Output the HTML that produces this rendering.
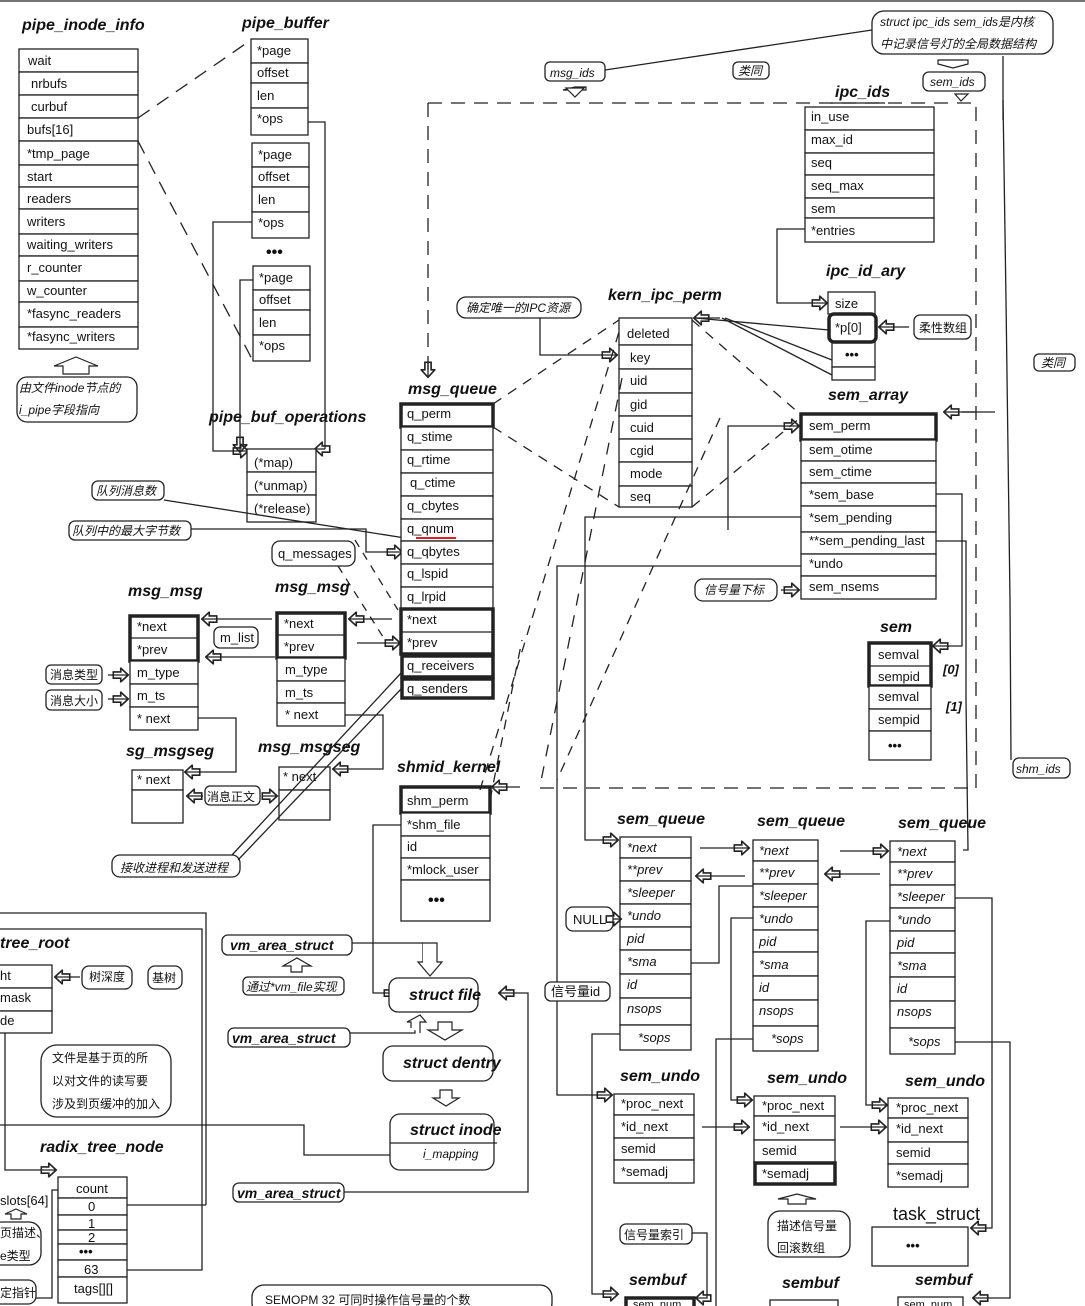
<!DOCTYPE html>
<html><head><meta charset="utf-8"><style>
html,body{margin:0;padding:0;background:#fff}
svg{display:block}
text{font-family:"Liberation Sans","Noto Sans CJK SC",sans-serif;font-size:13px;fill:#111}
.t{font-weight:bold;font-style:italic;font-size:16px}
.i{font-style:italic}
.c{font-family:"Liberation Sans","Noto Sans CJK SC",sans-serif;font-style:italic;font-size:12px}
rect{fill:#fff;stroke:#222;stroke-width:1.3}
.k{stroke-width:3.5}
.n{fill:#fff;stroke:#222;stroke-width:1.2}
line,polyline,path{stroke:#222;stroke-width:1.3;fill:none}
.d{stroke-dasharray:14 9}
</style></head><body>
<svg width="1085" height="1306" viewBox="0 0 1085 1306" xmlns="http://www.w3.org/2000/svg">
<defs>
<marker id="a" viewBox="0 0 12 12" refX="11" refY="6" markerWidth="17" markerHeight="15" markerUnits="userSpaceOnUse" orient="auto"><path d="M0,3.5 L6,3.5 L6,0.5 L12,6 L6,11.5 L6,8.5 L0,8.5 Z" fill="#fff" stroke="#222" stroke-width="0.9"/></marker>
</defs>
<line x1="0" y1="1" x2="1085" y2="1" stroke-width="2"/>

<!-- pipe_inode_info -->
<text class="t" x="22" y="30">pipe_inode_info</text>
<g>
<rect x="19" y="49" width="119" height="23"/><text x="28" y="65">wait</text>
<rect x="19" y="72" width="119" height="23"/><text x="31" y="88">nrbufs</text>
<rect x="19" y="95" width="119" height="23"/><text x="31" y="111">curbuf</text>
<rect x="19" y="118" width="119" height="23"/><text x="27" y="134">bufs[16]</text>
<rect x="19" y="141" width="119" height="24"/><text x="27" y="158">*tmp_page</text>
<rect x="19" y="165" width="119" height="22"/><text x="27" y="181">start</text>
<rect x="19" y="187" width="119" height="22"/><text x="27" y="203">readers</text>
<rect x="19" y="209" width="119" height="25"/><text x="27" y="226">writers</text>
<rect x="19" y="234" width="119" height="22"/><text x="27" y="249">waiting_writers</text>
<rect x="19" y="256" width="119" height="25"/><text x="27" y="272">r_counter</text>
<rect x="19" y="281" width="119" height="21"/><text x="27" y="295">w_counter</text>
<rect x="19" y="302" width="119" height="25"/><text x="27" y="318">*fasync_readers</text>
<rect x="19" y="327" width="119" height="22"/><text x="27" y="341">*fasync_writers</text>
</g>
<path d="M54,366 L76,357 L98,366 L89,366 L89,374 L63,374 L63,366 Z" class="n"/>
<rect x="17" y="377" width="120" height="45" rx="10"/>
<text class="c" x="19" y="392">由文件inode节点的</text>
<text class="c" x="19" y="414">i_pipe字段指向</text>

<!-- pipe_buffer -->
<text class="t" x="242" y="28">pipe_buffer</text>
<rect x="251" y="39" width="57" height="24"/><text x="257" y="55">*page</text>
<rect x="251" y="63" width="57" height="20"/><text x="257" y="77">offset</text>
<rect x="251" y="83" width="57" height="25"/><text x="257" y="100">len</text>
<rect x="251" y="108" width="57" height="27"/><text x="257" y="123">*ops</text>
<rect x="252" y="143" width="57" height="24"/><text x="258" y="159">*page</text>
<rect x="252" y="167" width="57" height="20"/><text x="258" y="181">offset</text>
<rect x="252" y="187" width="57" height="25"/><text x="258" y="204">len</text>
<rect x="252" y="212" width="57" height="26"/><text x="258" y="227">*ops</text>
<text x="266" y="257" style="font-weight:bold;font-size:16px">•••</text>
<rect x="253" y="266" width="57" height="24"/><text x="259" y="282">*page</text>
<rect x="253" y="290" width="57" height="20"/><text x="259" y="304">offset</text>
<rect x="253" y="310" width="57" height="25"/><text x="259" y="327">len</text>
<rect x="253" y="335" width="57" height="26"/><text x="259" y="350">*ops</text>
<line x1="138" y1="118" x2="251" y2="40" class="d"/>
<line x1="138" y1="141" x2="253" y2="361" class="d"/>
<polyline points="308,122 325,122 325,449"/>
<polyline points="252,222 213,222 213,451 247,451" marker-end="url(#a)"/>
<polyline points="253,280 240,280 240,440"/>
<line x1="240" y1="440" x2="240" y2="451" marker-end="url(#a)"/>
<line x1="325" y1="449" x2="316" y2="449" marker-end="url(#a)"/>

<!-- pipe_buf_operations -->
<text class="t" x="209" y="422">pipe_buf_operations</text>
<rect x="247" y="449" width="69" height="23"/><text x="254" y="467">(*map)</text>
<rect x="247" y="472" width="69" height="23"/><text x="254" y="490">(*unmap)</text>
<rect x="247" y="495" width="69" height="27"/><text x="254" y="513">(*release)</text>

<!-- notes left middle -->
<rect x="92" y="481" width="72" height="19" rx="6"/><text class="c" x="96" y="495">队列消息数</text>
<rect x="69" y="521" width="122" height="19" rx="6"/><text class="c" x="72" y="535">队列中的最大字节数</text>
<line x1="164" y1="500" x2="405" y2="538"/>
<polyline points="191,529 366,529 366,552 401,552" marker-end="url(#a)"/>
<rect x="272" y="541" width="83" height="25" rx="8"/><text x="278" y="558">q_messages</text>
<line x1="338" y1="566" x2="385" y2="640" class="d" style="stroke-dasharray:8 7"/>
<line x1="355" y1="540" x2="398" y2="610" class="d" style="stroke-dasharray:8 7"/>

<!-- msg_queue -->
<line x1="428" y1="103" x2="428" y2="372" class="d"/>
<line x1="428" y1="362" x2="428" y2="376" marker-end="url(#a)"/>
<text class="t" x="408" y="394">msg_queue</text>
<rect x="401" y="404" width="92" height="23" class="k"/><text x="407" y="418">q_perm</text>
<rect x="401" y="427" width="92" height="23"/><text x="407" y="441">q_stime</text>
<rect x="401" y="450" width="92" height="23"/><text x="407" y="464">q_rtime</text>
<rect x="401" y="473" width="92" height="23"/><text x="410" y="487">q_ctime</text>
<rect x="401" y="496" width="92" height="23"/><text x="407" y="510">q_cbytes</text>
<rect x="401" y="519" width="92" height="22"/><text x="407" y="533">q_qnum</text>
<line x1="416" y1="538" x2="456" y2="538" style="stroke:#e02020;stroke-width:2"/>
<rect x="401" y="541" width="92" height="23"/><text x="407" y="556">q_qbytes</text>
<rect x="401" y="564" width="92" height="23"/><text x="407" y="578">q_lspid</text>
<rect x="401" y="587" width="92" height="22"/><text x="407" y="601">q_lrpid</text>
<rect x="401" y="609" width="92" height="45" class="k"/><line x1="401" y1="632" x2="493" y2="632"/>
<text x="407" y="624">*next</text><text x="407" y="647">*prev</text>
<rect x="402" y="656" width="91" height="21" class="k"/><text x="407" y="670">q_receivers</text>
<rect x="402" y="679" width="91" height="19" class="k"/><text x="407" y="693">q_senders</text>

<!-- msg_msg -->
<text class="t" x="128" y="596">msg_msg</text>
<rect x="130" y="616" width="68" height="45" class="k"/><line x1="130" y1="638" x2="198" y2="638"/>
<text x="137" y="631">*next</text><text x="137" y="654">*prev</text>
<rect x="130" y="661" width="68" height="23"/><text x="137" y="677">m_type</text>
<rect x="130" y="684" width="68" height="23"/><text x="137" y="700">m_ts</text>
<rect x="130" y="707" width="68" height="23"/><text x="137" y="723">* next</text>
<text class="t" x="275" y="592">msg_msg</text>
<rect x="277" y="613" width="68" height="45" class="k"/><line x1="277" y1="635" x2="345" y2="635"/>
<text x="284" y="628">*next</text><text x="284" y="651">*prev</text>
<rect x="277" y="658" width="68" height="23"/><text x="285" y="674">m_type</text>
<rect x="277" y="681" width="68" height="22"/><text x="285" y="697">m_ts</text>
<rect x="277" y="703" width="68" height="23"/><text x="285" y="719">* next</text>
<line x1="272" y1="619" x2="203" y2="619" marker-end="url(#a)"/>
<line x1="275" y1="657" x2="207" y2="657" marker-end="url(#a)"/>
<rect x="214" y="627" width="44" height="21" rx="6"/><text x="220" y="642">m_list</text>
<line x1="392" y1="619" x2="350" y2="619" marker-end="url(#a)"/>
<line x1="357" y1="643" x2="399" y2="643" marker-end="url(#a)"/>
<rect x="46" y="665" width="56" height="19" rx="5"/><text x="50" y="679" style="font-size:12px">消息类型</text>
<rect x="46" y="690" width="56" height="20" rx="5"/><text x="50" y="705" style="font-size:12px">消息大小</text>
<line x1="108" y1="675" x2="127" y2="675" marker-end="url(#a)"/>
<line x1="108" y1="699" x2="127" y2="699" marker-end="url(#a)"/>
<polyline points="198,718 236,718 236,772 186,772" marker-end="url(#a)"/>
<polyline points="345,715 383,715 383,769 334,769" marker-end="url(#a)"/>
<text class="t" x="126" y="756">sg_msgseg</text>
<rect x="132" y="770" width="51" height="20"/><text x="137" y="784">* next</text>
<rect x="132" y="790" width="51" height="33"/>
<text class="t" x="258" y="752">msg_msgseg</text>
<rect x="279" y="767" width="51" height="23"/><text x="283" y="781">* next</text>
<rect x="279" y="790" width="51" height="30"/>
<rect x="205" y="786" width="55" height="19" rx="5"/><text x="207" y="801" style="font-size:12px">消息正文</text>
<line x1="203" y1="796" x2="188" y2="796" marker-end="url(#a)"/>
<line x1="262" y1="796" x2="276" y2="796" marker-end="url(#a)"/>
<rect x="112" y="855" width="128" height="22" rx="8"/><text class="c" x="120" y="872">接收进程和发送进程</text>
<line x1="232" y1="855" x2="402" y2="672"/>
<line x1="238" y1="860" x2="402" y2="688"/>

<!-- shmid_kernel -->
<text class="t" x="397" y="772">shmid_kernel</text>
<rect x="401" y="787" width="89" height="26" class="k"/><text x="407" y="805">shm_perm</text>
<rect x="401" y="813" width="89" height="23"/><text x="407" y="829">*shm_file</text>
<rect x="401" y="836" width="89" height="22"/><text x="407" y="851">id</text>
<rect x="401" y="858" width="89" height="22"/><text x="407" y="874">*mlock_user</text>
<rect x="401" y="880" width="89" height="41"/><text x="428" y="905" style="font-weight:bold;font-size:16px">•••</text>
<line x1="520" y1="787" x2="493" y2="787" marker-end="url(#a)"/>
<polyline points="401,825 373,825 373,993 398,993" marker-end="url(#a)"/>
<line x1="490" y1="800" x2="522" y2="640" class="d" style="stroke-dasharray:10 8"/>
<line x1="480" y1="790" x2="622" y2="322" class="d" style="stroke-dasharray:10 8"/>

<!-- kern_ipc_perm -->
<text class="t" x="608" y="300">kern_ipc_perm</text>
<rect x="619" y="318" width="73" height="27"/><text x="627" y="338">deleted</text>
<rect x="619" y="345" width="73" height="24"/><text x="630" y="362">key</text>
<rect x="619" y="369" width="73" height="24"/><text x="630" y="385">uid</text>
<rect x="619" y="393" width="73" height="23"/><text x="630" y="409">gid</text>
<rect x="619" y="416" width="73" height="23"/><text x="630" y="432">cuid</text>
<rect x="619" y="439" width="73" height="23"/><text x="630" y="455">cgid</text>
<rect x="619" y="462" width="73" height="24"/><text x="630" y="478">mode</text>
<rect x="619" y="486" width="73" height="21"/><text x="630" y="501">seq</text>
<rect x="457" y="297" width="124" height="21" rx="9"/><text class="c" x="466" y="312">确定唯一的IPC资源</text>
<polyline points="540,318 540,355 616,355" marker-end="url(#a)"/>
<line x1="493" y1="404" x2="619" y2="320" class="d" style="stroke-dasharray:10 8"/>
<line x1="493" y1="427" x2="619" y2="507" class="d" style="stroke-dasharray:10 8"/>
<line x1="692" y1="320" x2="800" y2="414" class="d" style="stroke-dasharray:10 8"/>
<line x1="692" y1="507" x2="800" y2="418" class="d" style="stroke-dasharray:10 8"/>

<!-- ipc_ids area -->
<rect x="545" y="62" width="60" height="19" rx="5"/><text class="c" x="550" y="77">msg_ids</text>
<line x1="605" y1="70" x2="872" y2="30"/>
<path d="M563,90 L586,90 L586,87 L575,87 Z" class="n"/>
<path d="M566,88 L584,88 L575,97 Z" class="n"/>
<rect x="733" y="62" width="36" height="17" rx="5"/><text class="c" x="738" y="75">类同</text>
<rect x="872" y="11" width="181" height="43" rx="12"/>
<text class="c" x="880" y="26">struct ipc_ids sem_ids是内核</text>
<text class="c" x="880" y="48">中记录信号灯的全局数据结构</text>
<path d="M938,60 L968,60 L968,64 L953,68 L938,64 Z" class="n"/>
<rect x="923" y="72" width="62" height="19" rx="6"/><text class="c" x="930" y="86">sem_ids</text>
<path d="M955,94 L968,94 L961,101 Z" class="n"/>
<rect x="1034" y="354" width="41" height="17" rx="5"/><text class="c" x="1041" y="367">类同</text>
<line x1="1003" y1="56" x2="1003" y2="120"/>
<polyline points="1003,100 1006,300 1010,600 1011,760"/>
<rect x="1013" y="758" width="57" height="20" rx="6"/><text class="c" x="1016" y="773">shm_ids</text>
<!-- big dashed frame -->
<polyline points="428,103 976,103 976,788" class="d"/>
<line x1="540" y1="788" x2="976" y2="788" class="d"/>
<line x1="830" y1="103" x2="885" y2="103" stroke-width="3"/>
<text class="t" x="835" y="97">ipc_ids</text>
<rect x="805" y="107" width="129" height="23"/><text x="811" y="121">in_use</text>
<rect x="805" y="130" width="129" height="23"/><text x="811" y="144">max_id</text>
<rect x="805" y="153" width="129" height="22"/><text x="811" y="167">seq</text>
<rect x="805" y="175" width="129" height="23"/><text x="811" y="190">seq_max</text>
<rect x="805" y="198" width="129" height="20"/><text x="811" y="213">sem</text>
<rect x="805" y="218" width="129" height="24"/><text x="811" y="235">*entries</text>
<polyline points="805,229 777,229 777,303 826,303" marker-end="url(#a)"/>
<text class="t" x="826" y="276">ipc_id_ary</text>
<rect x="828" y="292" width="47" height="22"/><text x="835" y="308">size</text>
<rect x="832" y="342" width="43" height="25"/><text x="845" y="359" style="font-weight:bold">•••</text>
<rect x="832" y="367" width="43" height="13"/>
<rect x="829" y="314" width="47" height="28" rx="5" class="k"/><text x="835" y="332">*p[0]</text>
<line x1="829" y1="330" x2="695" y2="318"/>
<line x1="832" y1="360" x2="725" y2="318"/>
<line x1="832" y1="375" x2="722" y2="318"/>
<line x1="720" y1="318" x2="695" y2="318" marker-end="url(#a)"/>
<line x1="909" y1="327" x2="880" y2="327" marker-end="url(#a)"/>
<rect x="914" y="315" width="57" height="24" rx="6"/><text x="919" y="332" style="font-size:12px">柔性数组</text>

<!-- sem_array -->
<text class="t" x="828" y="400">sem_array</text>
<rect x="801" y="414" width="135" height="26" class="k"/><text x="809" y="430">sem_perm</text>
<rect x="801" y="440" width="135" height="21"/><text x="809" y="454">sem_otime</text>
<rect x="801" y="461" width="135" height="22"/><text x="809" y="476">sem_ctime</text>
<rect x="801" y="483" width="135" height="23"/><text x="809" y="499">*sem_base</text>
<rect x="801" y="506" width="135" height="26"/><text x="809" y="522">*sem_pending</text>
<rect x="801" y="532" width="135" height="22"/><text x="809" y="545">**sem_pending_last</text>
<rect x="801" y="554" width="135" height="22"/><text x="809" y="568">*undo</text>
<rect x="801" y="576" width="135" height="23"/><text x="809" y="591">sem_nsems</text>
<polyline points="976,412 962,412"/><line x1="995" y1="412" x2="945" y2="412" marker-end="url(#a)"/>
<polyline points="728,530 728,426 798,426" marker-end="url(#a)"/>
<rect x="695" y="579" width="82" height="22" rx="8"/><text class="c" x="704" y="594">信号量下标</text>
<line x1="781" y1="590" x2="798" y2="590" marker-end="url(#a)"/>
<polyline points="936,494 962,494 962,646 934,646" marker-end="url(#a)"/>
<polyline points="936,541 966,541 966,700 968,850 963,850"/>
<polyline points="801,517 585,517 585,840 617,840" marker-end="url(#a)"/>
<polyline points="801,566 557,566 557,1095 611,1095" marker-end="url(#a)"/>
<line x1="720" y1="418" x2="557" y2="780" class="d" style="stroke-dasharray:10 8"/>
<line x1="622" y1="378" x2="540" y2="786" class="d" style="stroke-dasharray:12 10"/>

<!-- sem -->
<text class="t" x="880" y="632">sem</text>
<rect x="869" y="643" width="62" height="43" class="k"/><line x1="869" y1="666" x2="931" y2="666"/>
<text x="878" y="659">semval</text><text x="878" y="681">sempid</text>
<rect x="869" y="686" width="62" height="23"/><text x="878" y="701">semval</text>
<rect x="869" y="709" width="62" height="22"/><text x="878" y="724">sempid</text>
<rect x="869" y="731" width="62" height="29"/><text x="888" y="750" style="font-weight:bold">•••</text>
<text class="i" x="943" y="674" style="font-weight:bold">[0]</text>
<text class="i" x="946" y="711" style="font-weight:bold">[1]</text>

<!-- sem_queue 1 -->
<text class="t" x="617" y="824">sem_queue</text>
<g class="i">
<rect x="620" y="837" width="71" height="21"/><text class="i" x="627" y="852">*next</text>
<rect x="620" y="858" width="71" height="23"/><text class="i" x="627" y="874">**prev</text>
<rect x="620" y="881" width="71" height="23"/><text class="i" x="627" y="897">*sleeper</text>
<rect x="620" y="904" width="71" height="23"/><text class="i" x="627" y="920">*undo</text>
<rect x="620" y="927" width="71" height="23"/><text class="i" x="627" y="943">pid</text>
<rect x="620" y="950" width="71" height="24"/><text class="i" x="627" y="966">*sma</text>
<rect x="620" y="974" width="71" height="24"/><text class="i" x="627" y="989">id</text>
<rect x="620" y="998" width="71" height="27"/><text class="i" x="627" y="1013">nsops</text>
<rect x="620" y="1025" width="71" height="25"/><text x="638" y="1042">*sops</text>
<text class="t" x="757" y="826">sem_queue</text>
<rect x="753" y="840" width="65" height="21"/><text class="i" x="759" y="855">*next</text>
<rect x="753" y="861" width="65" height="23"/><text class="i" x="759" y="877">**prev</text>
<rect x="753" y="884" width="65" height="23"/><text class="i" x="759" y="900">*sleeper</text>
<rect x="753" y="907" width="65" height="23"/><text class="i" x="759" y="923">*undo</text>
<rect x="753" y="930" width="65" height="22"/><text class="i" x="759" y="946">pid</text>
<rect x="753" y="952" width="65" height="24"/><text class="i" x="759" y="969">*sma</text>
<rect x="753" y="976" width="65" height="24"/><text class="i" x="759" y="992">id</text>
<rect x="753" y="1000" width="65" height="26"/><text class="i" x="759" y="1015">nsops</text>
<rect x="753" y="1026" width="65" height="25"/><text x="771" y="1043">*sops</text>
<text class="t" x="898" y="828">sem_queue</text>
<rect x="890" y="841" width="65" height="21"/><text class="i" x="897" y="856">*next</text>
<rect x="890" y="862" width="65" height="23"/><text class="i" x="897" y="878">**prev</text>
<rect x="890" y="885" width="65" height="23"/><text class="i" x="897" y="901">*sleeper</text>
<rect x="890" y="908" width="65" height="23"/><text class="i" x="897" y="924">*undo</text>
<rect x="890" y="931" width="65" height="22"/><text class="i" x="897" y="947">pid</text>
<rect x="890" y="953" width="65" height="24"/><text class="i" x="897" y="970">*sma</text>
<rect x="890" y="977" width="65" height="24"/><text class="i" x="897" y="993">id</text>
<rect x="890" y="1001" width="65" height="27"/><text class="i" x="897" y="1016">nsops</text>
<rect x="890" y="1028" width="65" height="26"/><text x="908" y="1046">*sops</text>
</g>
<line x1="700" y1="848" x2="748" y2="848" marker-end="url(#a)"/>
<line x1="745" y1="876" x2="697" y2="876" marker-end="url(#a)"/>
<line x1="840" y1="851" x2="887" y2="851" marker-end="url(#a)"/>
<line x1="880" y1="874" x2="826" y2="874" marker-end="url(#a)"/>
<rect x="566" y="907" width="47" height="24" rx="7"/><text x="573" y="924">NULL</text>
<line x1="613" y1="919" x2="620" y2="919" marker-end="url(#a)"/>
<polyline points="691,963 719,963 719,886 753,886"/>
<polyline points="753,918 731,918 731,1100 751,1100" marker-end="url(#a)"/>
<polyline points="890,921 866,921 866,1105 886,1105" marker-end="url(#a)"/>
<polyline points="955,898 992,898 992,1228 972,1228" marker-end="url(#a)"/>
<polyline points="955,1042 1010,1042 1010,1298 974,1298" marker-end="url(#a)"/>
<polyline points="620,1034 592,1034 592,1294 617,1294" marker-end="url(#a)"/>
<polyline points="753,1039 716,1039 716,1306"/>
<rect x="545" y="982" width="65" height="19" rx="6"/><text x="551" y="996">信号量id</text>

<!-- sem_undo -->
<text class="t" x="620" y="1081">sem_undo</text>
<rect x="614" y="1094" width="80" height="21"/><text x="621" y="1108">*proc_next</text>
<rect x="614" y="1115" width="80" height="23"/><text x="621" y="1131">*id_next</text>
<rect x="614" y="1138" width="80" height="22"/><text x="621" y="1153">semid</text>
<rect x="614" y="1160" width="80" height="23"/><text x="621" y="1176">*semadj</text>
<text class="t" x="767" y="1083">sem_undo</text>
<rect x="754" y="1096" width="81" height="20"/><text x="762" y="1110">*proc_next</text>
<rect x="754" y="1116" width="81" height="24"/><text x="762" y="1131">*id_next</text>
<rect x="754" y="1140" width="81" height="23"/><text x="762" y="1155">semid</text>
<rect x="755" y="1163" width="80" height="21" class="k"/><text x="762" y="1178">*semadj</text>
<text class="t" x="905" y="1086">sem_undo</text>
<rect x="888" y="1098" width="80" height="20"/><text x="896" y="1112">*proc_next</text>
<rect x="888" y="1118" width="80" height="24"/><text x="896" y="1133">*id_next</text>
<rect x="888" y="1142" width="80" height="22"/><text x="896" y="1157">semid</text>
<rect x="888" y="1164" width="80" height="23"/><text x="896" y="1180">*semadj</text>
<line x1="702" y1="1127" x2="748" y2="1127" marker-end="url(#a)"/>
<line x1="840" y1="1127" x2="885" y2="1127" marker-end="url(#a)"/>
<path d="M778,1199 L797,1194 L816,1199 L806,1199 L806,1204 L788,1204 L788,1199 Z" class="n"/>
<rect x="768" y="1211" width="82" height="46" rx="12"/>
<text x="777" y="1230" style="font-size:12px">描述信号量</text><text x="777" y="1252" style="font-size:12px">回滚数组</text>
<text x="893" y="1220" style="font-size:18px">task_struct</text>
<rect x="872" y="1227" width="96" height="39"/><text x="906" y="1250" style="font-weight:bold">•••</text>
<rect x="620" y="1224" width="72" height="20" rx="6"/><text x="624" y="1239" style="font-size:12px">信号量索引</text>
<polyline points="692,1233 707,1233 707,1298 697,1298" marker-end="url(#a)"/>
<text class="t" x="629" y="1285">sembuf</text>
<rect x="626" y="1298" width="68" height="10" class="k"/><text x="633" y="1308" style="font-size:11px">sem_num</text>
<text class="t" x="782" y="1288">sembuf</text>
<rect x="770" y="1300" width="68" height="10"/>
<text class="t" x="915" y="1285">sembuf</text>
<rect x="898" y="1297" width="65" height="12"/><text x="904" y="1308" style="font-size:11px">sem_num</text>

<!-- left bottom radix tree -->
<polyline points="0,913 206,913 206,1205"/>
<polyline points="0,929 202,929 202,1270 80,1270"/>
<line x1="127" y1="1205" x2="206" y2="1205"/>
<text class="t" x="0" y="948">tree_root</text>
<rect x="-5" y="965" width="57" height="23"/><text x="0" y="980">ht</text>
<rect x="-5" y="988" width="57" height="23"/><text x="0" y="1002">mask</text>
<rect x="-5" y="1011" width="57" height="22"/><text x="0" y="1025">de</text>
<line x1="80" y1="977" x2="56" y2="977" marker-end="url(#a)"/>
<rect x="82" y="966" width="50" height="23" rx="7"/><text x="89" y="981" style="font-size:12px">树深度</text>
<rect x="148" y="966" width="34" height="23" rx="7"/><text x="152" y="982" style="font-size:12px">基树</text>
<rect x="41" y="1045" width="130" height="72" rx="16"/>
<text x="52" y="1062" style="font-size:12px">文件是基于页的所</text>
<text x="52" y="1085" style="font-size:12px">以对文件的读写要</text>
<text x="52" y="1108" style="font-size:12px">涉及到页缓冲的加入</text>
<polyline points="0,1125 304,1125 304,1155 390,1155"/>
<text class="t" x="40" y="1152">radix_tree_node</text>
<polyline points="5,1033 5,1170 55,1170" marker-end="url(#a)"/>
<rect x="58" y="1177" width="69" height="21"/><text x="76" y="1193">count</text>
<rect x="58" y="1198" width="69" height="17"/><text x="88" y="1211">0</text>
<rect x="58" y="1215" width="69" height="15"/><text x="88" y="1228">1</text>
<rect x="58" y="1230" width="69" height="14"/><text x="88" y="1242">2</text>
<rect x="58" y="1244" width="69" height="16"/><text x="79" y="1256" style="font-weight:bold">•••</text>
<rect x="58" y="1260" width="69" height="17"/><text x="84" y="1274">63</text>
<rect x="58" y="1277" width="69" height="26"/><text x="74" y="1293">tags[][]</text>
<text x="0" y="1205">slots[64]</text>
<path d="M5,1214 L16,1209 L27,1214 L21,1214 L21,1219 L11,1219 L11,1214 Z" class="n"/>
<rect x="-10" y="1222" width="51" height="43" rx="12"/>
<text x="0" y="1237" style="font-size:12px">页描述、</text><text x="0" y="1260" style="font-size:12px">e类型</text>
<rect x="-10" y="1280" width="46" height="24" rx="8"/><text x="0" y="1297" style="font-size:12px">定指针</text>
<polyline points="36,1298 52,1298 52,1190 58,1190"/>

<!-- vm area / file -->
<rect x="222" y="935" width="130" height="20" rx="6"/><text class="t" x="230" y="950" style="font-size:14px">vm_area_struct</text>
<path d="M283,966 L297,958 L311,966 L302,966 L302,972 L291,972 L291,966 Z" class="n"/>
<rect x="243" y="977" width="101" height="18" rx="5"/><text class="c" x="246" y="991">通过*vm_file实现</text>
<polyline points="352,943 423,943 423,962"/>
<path d="M423,943 L437,943 L437,962 L442,962 L430,976 L418,962 L423,962" class="n"/>
<rect x="228" y="1028" width="122" height="19" rx="6"/><text class="t" x="232" y="1043" style="font-size:14px">vm_area_struct</text>
<polyline points="350,1033 415,1033 415,1018"/>
<path d="M411,1028 L411,1022 L407,1022 L420,1015 L426,1022 L420,1022 L420,1033" class="n"/>
<rect x="389" y="978" width="89" height="34" rx="9"/><text class="t" x="409" y="1000">struct file</text>
<path d="M438,1022 L452,1022 L452,1030 L462,1030 L445,1040 L428,1030 L438,1030 Z" class="n"/>
<rect x="383" y="1046" width="110" height="35" rx="10"/><text class="t" x="403" y="1068">struct dentry</text>
<path d="M440,1090 L452,1090 L452,1098 L459,1098 L446,1106 L433,1098 L440,1098 Z" class="n"/>
<rect x="390" y="1114" width="104" height="56" rx="10"/><line x1="390" y1="1143" x2="497" y2="1143"/>
<text class="t" x="410" y="1135">struct inode</text><text class="c" x="423" y="1158">i_mapping</text>
<rect x="233" y="1183" width="111" height="19" rx="6"/><text class="t" x="237" y="1198" style="font-size:14px">vm_area_struct</text>
<polyline points="344,1192 528,1192 528,993 500,993" marker-end="url(#a)"/>
<rect x="252" y="1285" width="300" height="30" rx="12"/>
<text x="265" y="1304" style="font-size:12px">SEMOPM  32  可同时操作信号量的个数</text>
</svg>
</body></html>
